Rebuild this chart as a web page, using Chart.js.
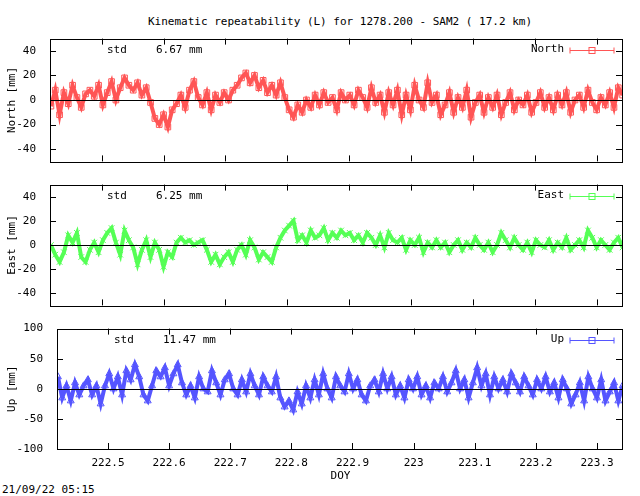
<!DOCTYPE html>
<html><head><meta charset="utf-8">
<script src="https://cdn.jsdelivr.net/npm/chart.js@4/dist/chart.umd.min.js"></script>
<style>body{margin:0;background:#fff;width:640px;height:496px;position:relative;overflow:hidden;font-family:"DejaVu Sans Mono",monospace}
canvas{position:absolute;left:0}
#title{position:absolute;top:15px;left:0;width:680px;text-align:center;font-size:11px}
</style></head><body>
<div id="title">Kinematic repeatability (L) for 1278.200 - SAM2  ( 17.2 km)</div>
<div style="position:absolute;left:2px;top:483px;font-size:11px">21/09/22 05:15</div>
<canvas id="c1" width="640" height="148" style="top:26px"></canvas>
<canvas id="c2" width="640" height="146" style="top:172px"></canvas>
<canvas id="c3" width="640" height="180" style="top:316px"></canvas>
<script>
const doyStart = 222.418, doyStep = 0.007;
const xTickLabels = [222.5,222.6,222.7,222.8,222.9,223,223.1,223.2,223.3];
const north = [-5,8,-12,6,-3,12,2,-6,5,8, 3,12,-4,6,15,0,10,18,12,8, 14,4,10,-2,-15,-20,-12,-22,-8,-3, 4,-6,8,15,2,-4,6,-8,4,-2, 6,0,8,12,18,22,14,20,10,16, 6,12,4,14,2,-8,-14,-4,-10,0, -6,4,-4,6,-2,2,-8,6,0,4, -4,8,2,-6,10,-2,4,-10,6,-4, 8,-12,4,-8,12,0,-6,14,-2,4, -12,-4,6,-10,2,-6,8,-14,-2,4, -10,2,-6,4,-12,-2,6,-8,0,-4, 4,-10,-2,6,-6,2,-8,4,-4,6, -10,0,4,-6,8,-2,-8,2,-4,6, -6,10,4];
const east = [0,-8,-14,-6,8,2,10,-10,-14,-4, 2,-6,4,10,14,2,-8,12,4,-2, -16,-4,4,-10,2,-4,-18,-6,-10,2, 6,2,4,0,2,4,-4,-14,-8,-16, -10,-6,-14,-4,0,-8,4,-2,-12,-6, -10,-14,-2,6,12,16,20,4,8,2, 12,6,8,14,4,10,6,12,8,10, 4,8,2,10,6,0,8,-2,10,4, 2,6,-4,4,0,6,-6,2,-2,4, -2,2,-6,0,4,-4,2,-2,6,0, -4,2,-6,0,10,4,-2,6,0,-4, 2,-6,4,0,-2,4,-4,2,-2,6, -4,0,4,-2,12,6,-2,4,0,-4, 2,6,-2];
const up = [20,-15,5,-20,10,-10,5,15,-10,5, -25,5,25,0,20,-10,30,15,40,20, -10,-20,5,30,20,35,5,25,40,10, -10,5,-15,20,0,-5,30,10,-10,15, 25,0,-10,15,-5,25,5,-10,20,5, -5,20,-15,-30,-20,-35,-5,-25,5,-15, 15,-10,25,0,-15,20,5,-5,25,0, 15,-10,-20,5,15,-5,25,0,20,-10, 5,-15,15,0,20,-10,5,-15,10,0, 20,-5,10,30,0,15,-15,10,35,5, 25,-10,20,0,15,-5,25,10,-5,20, 5,-10,15,0,20,-5,10,-15,15,0, -25,-10,10,-20,20,0,-15,15,-20,-5, 10,-20,5];
const panels = [
 {id:'c1',name:'North',lab:'North [mm]',std:'6.67 mm',data:north,color:'#ff5555',style:'rect',yTicks:[-40,-20,0,20,40],ymin:-50,ymax:50,left:50,xh:8,labels:false},
 {id:'c2',name:'East',lab:'East [mm]',std:'6.25 mm',data:east,color:'#55ff55',style:'crossRot',yTicks:[-40,-20,0,20,40],ymin:-50,ymax:50,left:50,xh:10,labels:false},
 {id:'c3',name:'Up',lab:'Up [mm]',std:'11.47 mm',data:up,color:'#5555ff',style:'triangle',yTicks:[-100,-50,0,50,100],ymin:-100,ymax:100,left:57,xh:47,labels:true}
];
const xmin=222.4165, xmax=223.341;
const F='11px "DejaVu Sans Mono"';
panels.forEach(p=>{
 const pts=p.data.map((v,i)=>({x:doyStart+i*doyStep,y:v}));
 const deco={id:'deco',afterDraw(ch){
   const c=ch.ctx,a=ch.chartArea,xs=ch.scales.x,ys=ch.scales.y;
   c.save();c.strokeStyle='#000';c.lineWidth=1;
   c.strokeRect(Math.round(a.left)+.5,Math.round(a.top)+.5,Math.round(a.right-a.left),Math.round(a.bottom-a.top));
   c.beginPath();
   const y0=Math.round(ys.getPixelForValue(0))+.5;c.moveTo(a.left,y0);c.lineTo(a.right,y0);
   p.yTicks.forEach(t=>{const y=Math.round(ys.getPixelForValue(t))+.5;c.moveTo(a.left,y);c.lineTo(a.left+6,y);c.moveTo(a.right,y);c.lineTo(a.right-6,y);});
   xTickLabels.forEach(t=>{const x=Math.round(xs.getPixelForValue(t))+.5;c.moveTo(x,a.bottom);c.lineTo(x,a.bottom-6);c.moveTo(x,a.top);c.lineTo(x,a.top+6);});
   c.stroke();
   c.fillStyle='#000';c.font=F;c.textBaseline='middle';
   c.fillText('std',p.left+57,a.top+12);c.fillText(p.std,p.left+106,a.top+12);
   c.textAlign='right';c.fillText(p.name,a.right-58,a.top+11);
   c.strokeStyle=p.color;c.beginPath();const ly=Math.round(a.top+11)+.5;
   c.moveTo(a.right-52,ly);c.lineTo(a.right-8,ly);c.moveTo(a.right-52,ly-3);c.lineTo(a.right-52,ly+3);c.moveTo(a.right-8,ly-3);c.lineTo(a.right-8,ly+3);c.stroke();
   c.strokeRect(a.right-33,ly-3,6,6);
   c.translate(12,(a.top+a.bottom)/2);c.rotate(-Math.PI/2);c.textAlign='center';c.fillText(p.lab,0,0);
   c.restore();
   if(p.labels){c.save();c.font=F;c.fillStyle='#000';c.textAlign='center';c.textBaseline='middle';c.fillText('DOY',(a.left+a.right)/2+1,a.bottom+27);c.restore();}
 }};
 new Chart(document.getElementById(p.id),{type:'scatter',
  data:{datasets:[{data:pts,showLine:true,borderColor:p.color,backgroundColor:'rgba(0,0,0,0)',borderWidth:4,pointStyle:p.style,pointRadius:4,pointBorderColor:p.color,pointBorderWidth:1}]},
  options:{animation:false,responsive:false,devicePixelRatio:1,events:[],
   layout:{padding:{top:9,right:18,left:0,bottom:0}},
   plugins:{legend:{display:false},tooltip:{enabled:false}},
   scales:{
    x:{type:'linear',min:xmin,max:xmax,grid:{display:false},border:{display:false},
       afterFit(s){s.height=p.xh;},
       afterBuildTicks(s){s.ticks=xTickLabels.map(v=>({value:v}));},
       ticks:{display:p.labels,autoSkip:false,maxRotation:0,color:'#000',font:{family:'DejaVu Sans Mono',size:11},padding:0,callback:v=>String(v)}},
    y:{min:p.ymin,max:p.ymax,grid:{display:false},border:{display:false},
       afterFit(s){s.width=p.left;},
       afterBuildTicks(s){s.ticks=p.yTicks.map(v=>({value:v}));},
       ticks:{color:'#000',font:{family:'DejaVu Sans Mono',size:11},padding:6}}
   }},plugins:[deco]});
});
</script></body></html>
